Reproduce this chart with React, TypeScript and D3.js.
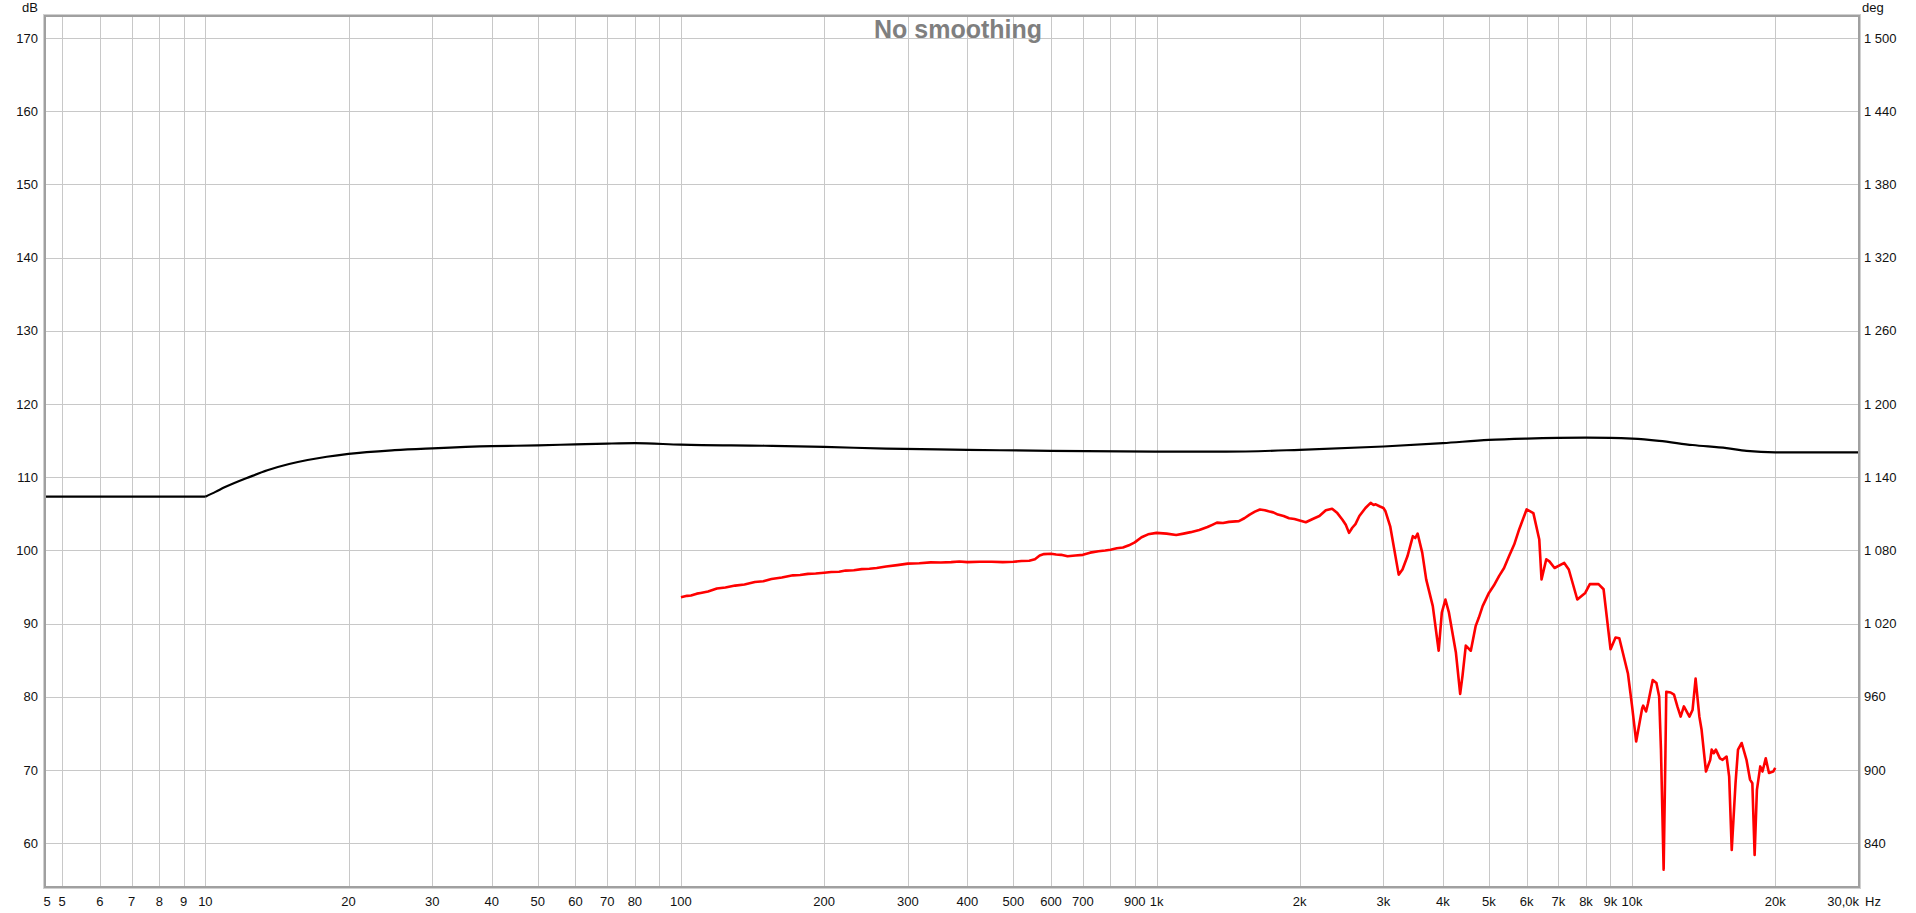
import React from "react";
import * as d3 from "d3";

// ---- data ----
const blackFreq = [4.6, 10, 10.5, 11, 12.4, 13.5, 15, 16.4, 18, 20, 25, 30, 40, 50, 60, 70, 80, 100, 150, 200, 270, 400, 600, 1000, 1400, 2000, 3000, 4000, 5000, 6000, 8000, 9000, 10000, 11400, 13400, 15800, 17400, 20000, 30000];
const blackDb = [107.35, 107.35, 108.0, 108.65, 110.05, 110.95, 111.8, 112.35, 112.8, 113.2, 113.7, 113.95, 114.25, 114.35, 114.5, 114.6, 114.65, 114.45, 114.3, 114.15, 113.9, 113.75, 113.6, 113.5, 113.5, 113.74, 114.2, 114.65, 115.1, 115.28, 115.4, 115.38, 115.28, 114.97, 114.4, 113.97, 113.6, 113.4, 113.4];

const redFreq = [100, 103, 105, 108, 110, 114, 119, 124, 130, 136, 143, 149, 155, 163, 172, 178, 185, 192, 200, 207, 215, 222, 231, 240, 249, 258, 270, 285, 300, 317, 335, 352, 370, 385, 400, 425, 450, 475, 500, 520, 540, 555, 568, 580, 600, 615, 630, 650, 675, 700, 725, 755, 780, 800, 825, 850, 875, 900, 930, 960, 1000, 1050, 1100, 1140, 1180, 1230, 1280, 1310, 1340, 1380, 1420, 1490, 1530, 1570, 1610, 1650, 1690, 1720, 1760, 1800, 1850, 1900, 1950, 2000, 2060, 2130, 2200, 2270, 2340, 2400, 2460, 2500, 2540, 2580, 2620, 2670, 2750, 2820, 2860, 2890, 2950, 3000, 3030, 3100, 3230, 3290, 3370, 3460, 3500, 3540, 3620, 3690, 3810, 3920, 3980, 4050, 4120, 4260, 4350, 4400, 4470, 4580, 4690, 4760, 4850, 5000, 5120, 5250, 5380, 5510, 5650, 5790, 6000, 6200, 6380, 6450, 6600, 6700, 6870, 7200, 7360, 7670, 7970, 8150, 8500, 8710, 9010, 9230, 9400, 9800, 10000, 10200, 10500, 10550, 10700, 10800, 11050, 11250, 11400, 11500, 11650, 11750, 11800, 12050, 12250, 12450, 12650, 12850, 13200, 13400, 13600, 13850, 14000, 14300, 14600, 14700, 14850, 15000, 15300, 15500, 15800, 16000, 16200, 16500, 16700, 17000, 17400, 17700, 17900, 18100, 18300, 18600, 18800, 19100, 19400, 19800, 20000];
const redDb = [93.6, 93.8, 93.85, 94.1, 94.2, 94.4, 94.8, 94.95, 95.2, 95.35, 95.7, 95.8, 96.1, 96.3, 96.6, 96.65, 96.8, 96.85, 96.96, 97.05, 97.1, 97.25, 97.3, 97.45, 97.5, 97.6, 97.8, 98.0, 98.2, 98.25, 98.37, 98.35, 98.4, 98.5, 98.4, 98.45, 98.45, 98.4, 98.46, 98.55, 98.6, 98.8, 99.3, 99.5, 99.55, 99.45, 99.4, 99.2, 99.3, 99.4, 99.7, 99.9, 100.0, 100.1, 100.3, 100.4, 100.7, 101.1, 101.8, 102.2, 102.4, 102.3, 102.1, 102.3, 102.5, 102.8, 103.2, 103.5, 103.8, 103.75, 103.9, 104.0, 104.4, 104.9, 105.3, 105.6, 105.5, 105.35, 105.2, 104.9, 104.7, 104.4, 104.3, 104.1, 103.85, 104.3, 104.7, 105.5, 105.7, 105.1, 104.2, 103.5, 102.4, 103.1, 103.6, 104.7, 105.8, 106.5, 106.2, 106.3, 106.0, 105.8, 105.35, 103.3, 96.7, 97.4, 99.2, 101.95, 101.7, 102.3, 99.7, 96.05, 92.4, 86.3, 91.5, 93.3, 91.5, 86.1, 80.4, 82.9, 87.0, 86.3, 89.7, 90.8, 92.4, 94.2, 95.2, 96.5, 97.6, 99.2, 100.8, 102.9, 105.6, 105.1, 101.5, 96.05, 98.8, 98.5, 97.6, 98.3, 97.4, 93.3, 94.2, 95.4, 95.4, 94.7, 86.5, 88.1, 88.0, 83.2, 78.7, 73.9, 78.45, 78.8, 78.0, 79.1, 82.3, 81.9, 80.05, 72.8, 56.4, 72.0, 80.7, 80.6, 80.3, 78.7, 77.3, 78.7, 77.3, 78.2, 82.5, 77.3, 75.5, 69.8, 71.4, 72.8, 72.3, 72.8, 71.6, 71.4, 71.85, 69.1, 59.1, 68.2, 72.8, 73.7, 71.4, 68.7, 68.2, 58.4, 67.3, 70.5, 69.8, 71.6, 69.6, 69.8, 70.3];

const gridFreqs = [5, 6, 7, 8, 9, 10, 20, 30, 40, 50, 60, 70, 80, 90, 100, 200, 300, 400, 500, 600, 700, 800, 900, 1000, 2000, 3000, 4000, 5000, 6000, 7000, 8000, 9000, 10000, 20000];
const labelFreqs = [5, 6, 7, 8, 9, 10, 20, 30, 40, 50, 60, 70, 80, 100, 200, 300, 400, 500, 600, 700, 900, 1000, 2000, 3000, 4000, 5000, 6000, 7000, 8000, 9000, 10000, 20000];
const dbTicks = [60, 70, 80, 90, 100, 110, 120, 130, 140, 150, 160, 170];
const title = "No smoothing";

const W = 1916, H = 913;
const L = 45, R = 1859, T = 16, B = 887;
const FONT = "'Liberation Sans', Arial, sans-serif";

export default function App() {
  const x = d3.scaleLog().domain([4.6, 30000]).range([L, R]);
  const y = d3.scaleLinear().domain([54.03, 173.0]).range([B, T]);
  const deg = (v: number) => 6 * v + 480;
  const fmtDeg = (v: number) => {
    const s = String(Math.round(v));
    return s.length > 3 ? s.slice(0, s.length - 3) + " " + s.slice(-3) : s;
  };
  const fmtF = (f: number) => (f >= 1000 ? `${f / 1000}k` : `${f}`);

  const line = d3.line<[number, number]>().x((d) => x(d[0])).y((d) => y(d[1]));
  const curveLine = d3.line<[number, number]>().x((d) => x(d[0])).y((d) => y(d[1])).curve(d3.curveMonotoneX);
  const blackData = blackFreq.map((f, i) => [f, blackDb[i]] as [number, number]);
  const flatPart = blackData.filter((d) => d[0] <= 10);
  const risePart = blackData.filter((d) => d[0] >= 10);
  const redData = redFreq.map((f, i) => [f, redDb[i]] as [number, number]);

  return (
    <svg width={W} height={H} style={{ position: "absolute", left: 0, top: 0, display: "block", background: "#fff" }} fontFamily={FONT}>
      <rect x={0} y={0} width={W} height={H} fill="#fff" />
      <defs>
        <clipPath id="plot">
          <rect x={L} y={T} width={R - L} height={B - T} />
        </clipPath>
      </defs>
      {/* grid */}
      <g stroke="#c8c8c8" strokeWidth={1}>
        {gridFreqs.map((f) => (
          <line key={"v" + f} x1={Math.round(x(f)) + 0.5} x2={Math.round(x(f)) + 0.5} y1={T} y2={B} />
        ))}
        {dbTicks.map((v) => (
          <line key={"h" + v} x1={L} x2={R} y1={Math.round(y(v)) + 0.5} y2={Math.round(y(v)) + 0.5} />
        ))}
      </g>
      {/* title */}
      <text x={958} y={38} textAnchor="middle" fontSize={25} fontWeight="bold" fill="#7f7f7f">{title}</text>
      {/* curves */}
      <g clipPath="url(#plot)">
        <path d={line(flatPart) || ""} fill="none" stroke="#000" strokeWidth={2.2} />
        <path d={curveLine(risePart) || ""} fill="none" stroke="#000" strokeWidth={2.2} />
        <path d={line(redData) || ""} fill="none" stroke="#ff0000" strokeWidth={2.6} strokeLinejoin="round" />
      </g>
      {/* border */}
      <rect x={L - 1.5} y={T - 1.5} width={R - L + 3} height={B - T + 3} fill="none" stroke="#d0d0d0" strokeWidth={1} />
      <rect x={L} y={T} width={R - L} height={B - T} fill="none" stroke="#a0a0a0" strokeWidth={2} />
      {/* axes text */}
      <g fontSize={13} fill="#111">
        {dbTicks.map((v) => (
          <text key={"l" + v} x={38} y={y(v)} dy="0.35em" textAnchor="end">{v}</text>
        ))}
        {dbTicks.map((v) => (
          <text key={"r" + v} x={1864} y={y(v)} dy="0.35em" textAnchor="start">{fmtDeg(deg(v))}</text>
        ))}
        <text x={38} y={7} dy="0.35em" textAnchor="end">dB</text>
        <text x={1862} y={7} dy="0.35em" textAnchor="start">deg</text>
        <text x={47} y={901} dy="0.35em" textAnchor="middle">5</text>
        {labelFreqs.map((f) => (
          <text key={"b" + f} x={x(f)} y={901} dy="0.35em" textAnchor="middle">{fmtF(f)}</text>
        ))}
        <text x={R} y={901} dy="0.35em" textAnchor="end">30,0k</text>
        <text x={1865} y={901} dy="0.35em" textAnchor="start">Hz</text>
      </g>
    </svg>
  );
}
